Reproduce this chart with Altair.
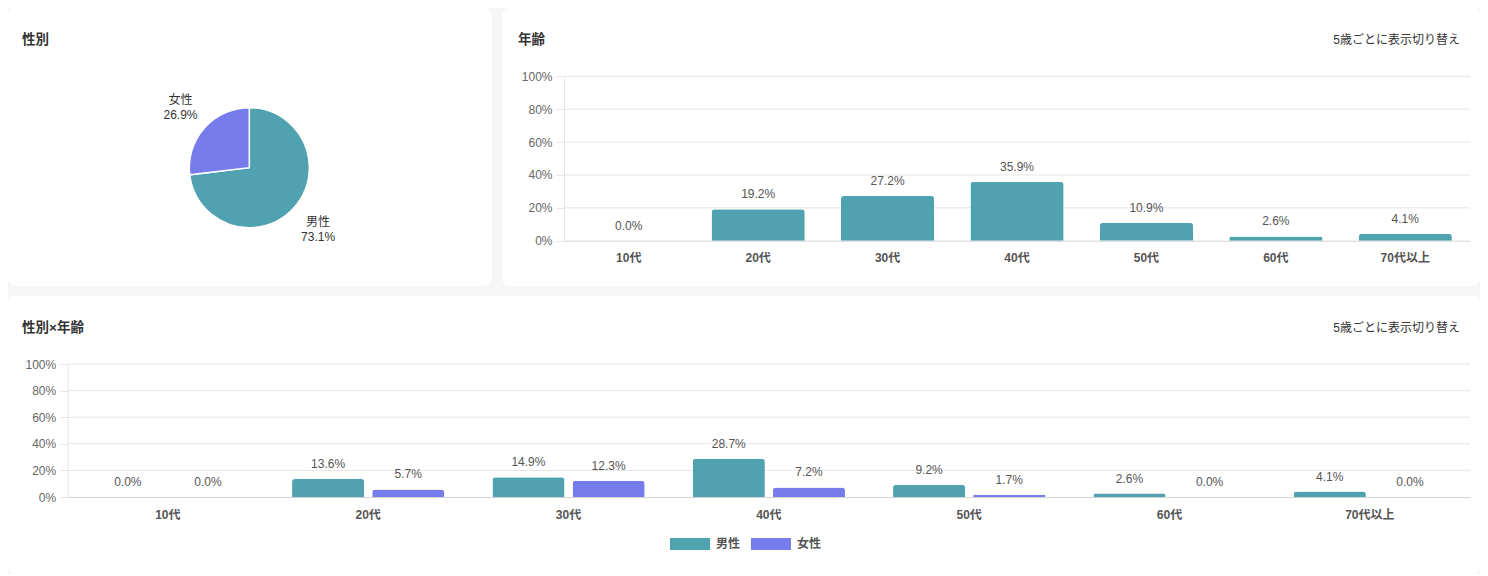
import altair as alt
import pandas as pd

# ---- data ----
genders = ['男性', '女性']
gender_pct = [73.1, 26.9]
ages = ['10代', '20代', '30代', '40代', '50代', '60代', '70代以上']
age_pct = [0.0, 19.2, 27.2, 35.9, 10.9, 2.6, 4.1]
male_pct = [0.0, 13.6, 14.9, 28.7, 9.2, 2.6, 4.1]
female_pct = [0.0, 5.7, 12.3, 7.2, 1.7, 0.0, 0.0]
y_ticks = [0, 20, 40, 60, 80, 100]
titles = ['性別', '年齢', '性別×年齢']
switch_label = '5歳ごとに表示切り替え'

TEAL = '#50a2b0'
PURPLE = '#767cec'
FONT = 'Helvetica Neue, Helvetica, Arial, Liberation Sans, Noto Sans CJK JP, sans-serif'
GRID = '#e6e6e6'
AXIS = '#d4d4d4'


def fmt(v):
    return f'{v:.1f}%'


pie_df = pd.DataFrame({
    'gender': genders, 'pct': gender_pct, 'ord': [0, 1],
    'label': [f'{g}\n{fmt(p)}' for g, p in zip(genders, gender_pct)],
})
age_df = pd.DataFrame({'age': ages, 'pct': age_pct,
                       'label': [fmt(v) for v in age_pct]})
ga_df = pd.DataFrame({
    'age': ages + ages,
    'gender': [genders[0]] * len(ages) + [genders[1]] * len(ages),
    'pct': male_pct + female_pct,
})
ga_df['label'] = ga_df['pct'].map(fmt)
tick_df = pd.DataFrame({'v': y_ticks})


def headers(title, x, y, right_x=None):
    layers = [
        alt.Chart(pd.DataFrame({'t': [title]})).mark_text(
            align='left', baseline='middle', fontSize=13.5, fontWeight='bold',
            color='#333', font=FONT
        ).encode(x=alt.value(x), y=alt.value(y), text='t:N')
    ]
    if right_x is not None:
        layers.append(
            alt.Chart(pd.DataFrame({'t': [switch_label]})).mark_text(
                align='right', baseline='middle', fontSize=12,
                color='#333', font=FONT
            ).encode(x=alt.value(right_x), y=alt.value(y), text='t:N')
        )
    return layers


def y_axis(offset):
    return alt.Axis(values=y_ticks, labelExpr="datum.value + '%'", grid=False,
                    ticks=True, tickSize=8, tickColor=GRID, domain=True,
                    domainColor=GRID, labelColor='#666', labelFontSize=12,
                    labelFont=FONT, labelPadding=4, offset=offset, title=None)


def x_axis(offset):
    return alt.Axis(labelAngle=0, ticks=False, tickSize=0, grid=False,
                    domain=True, domainColor=AXIS, labelColor='#555',
                    labelFontSize=12, labelFont=FONT, labelFontWeight='bold',
                    labelPadding=12, offset=offset, title=None)


# ---- card 1: pie ----
W1, H1 = 484, 278
CX, CY = 241.3, 159.7
pie = alt.Chart(pie_df).mark_arc(outerRadius=60, stroke='white', strokeWidth=1.5).encode(
    theta=alt.Theta('pct:Q', stack=True),
    order=alt.Order('ord:Q'),
    color=alt.Color('gender:N', scale=alt.Scale(domain=genders, range=[TEAL, PURPLE]), legend=None),
    x=alt.value(CX), y=alt.value(CY),
)
pie_text = alt.Chart(pie_df).mark_text(
    radius=92, dy=-6.5, fontSize=12, color='#333', font=FONT, lineBreak='\n',
    lineHeight=15, align='center', baseline='middle'
).encode(
    theta=alt.Theta('pct:Q', stack=True),
    order=alt.Order('ord:Q'),
    text='label:N',
    x=alt.value(CX), y=alt.value(CY),
)
card1 = alt.layer(pie, pie_text, *headers(titles[0], 14, 32)).properties(width=W1, height=H1)

# ---- card 2: age bars ----
W2, H2 = 978, 278
X2 = [62, 968]
Y2 = [232.7, 68.3]
ys2 = alt.Scale(domain=[0, 100], range=Y2)
xs2 = alt.Scale(domain=ages, range=X2, paddingInner=0.28, paddingOuter=0.14)
ya2 = y_axis(-X2[0])
grid2 = alt.Chart(tick_df).transform_filter('datum.v > 0').mark_rule(color=GRID, strokeWidth=1).encode(
    y=alt.Y('v:Q', scale=ys2, axis=ya2), x=alt.value(X2[0]), x2=alt.value(X2[1]))
bars2 = alt.Chart(age_df).mark_bar(color=TEAL, cornerRadiusTopLeft=3, cornerRadiusTopRight=3).encode(
    x=alt.X('age:N', scale=xs2, sort=ages, axis=x_axis(-(H2 - Y2[0]))),
    y=alt.Y('pct:Q', scale=ys2, axis=ya2),
)
text2 = alt.Chart(age_df).mark_text(dy=-15, fontSize=12, color='#555', font=FONT, baseline='middle').encode(
    x=alt.X('age:N', scale=xs2, sort=ages),
    y=alt.Y('pct:Q', scale=ys2, axis=ya2),
    text='label:N',
)
card2 = alt.layer(grid2, bars2, text2, *headers(titles[1], 16, 32, right_x=958)).properties(width=W2, height=H2)

# ---- card 3: gender x age ----
W3, H3 = 1472, 278
X3 = [59.7, 1462]
Y3 = [201, 68]
ys3 = alt.Scale(domain=[0, 100], range=Y3)
xs3 = alt.Scale(domain=ages, range=X3, paddingInner=0.2, paddingOuter=0.1)
xo3 = alt.Scale(domain=genders, paddingInner=0.1, paddingOuter=0.05)
ya3 = y_axis(-X3[0])
grid3 = alt.Chart(tick_df).transform_filter('datum.v > 0').mark_rule(color=GRID, strokeWidth=1).encode(
    y=alt.Y('v:Q', scale=ys3, axis=ya3), x=alt.value(X3[0]), x2=alt.value(X3[1]))
bars3 = alt.Chart(ga_df).mark_bar(cornerRadiusTopLeft=3, cornerRadiusTopRight=3).encode(
    x=alt.X('age:N', scale=xs3, sort=ages, axis=x_axis(-(H3 - Y3[0]))),
    xOffset=alt.XOffset('gender:N', scale=xo3, sort=genders),
    y=alt.Y('pct:Q', scale=ys3, axis=ya3),
    color=alt.Color('gender:N', scale=alt.Scale(domain=genders, range=[TEAL, PURPLE]),
                    legend=alt.Legend(orient='none', legendX=662, legendY=228,
                                      direction='horizontal', title=None,
                                      symbolType='M-1,-0.3H1V0.3H-1Z', symbolSize=1600,
                                      symbolStrokeWidth=0, labelFontWeight='bold',
                                      labelFontSize=12, labelColor='#555', labelFont=FONT,
                                      columnPadding=10, labelOffset=6, padding=0)),
)
text3 = alt.Chart(ga_df).mark_text(dy=-15, fontSize=12, color='#555', font=FONT, baseline='middle').encode(
    x=alt.X('age:N', scale=xs3, sort=ages),
    xOffset=alt.XOffset('gender:N', scale=xo3, sort=genders),
    y=alt.Y('pct:Q', scale=ys3, axis=ya3),
    text='label:N',
)
card3 = alt.layer(grid3, bars3, text3, *headers(titles[2], 14, 32, right_x=1452)).properties(width=W3, height=H3)

top = alt.hconcat(card1, card2, spacing=10)
chart = alt.vconcat(top, card3, spacing=10).resolve_scale(
    color='independent'
).resolve_legend(color='independent').properties(
    padding=0, background='#f6f6f6'
).configure(font=FONT).configure_view(fill='white', stroke='transparent', strokeWidth=0, cornerRadius=8)

chart.save('out.html', embed_options={'renderer': 'svg', 'actions': False})
